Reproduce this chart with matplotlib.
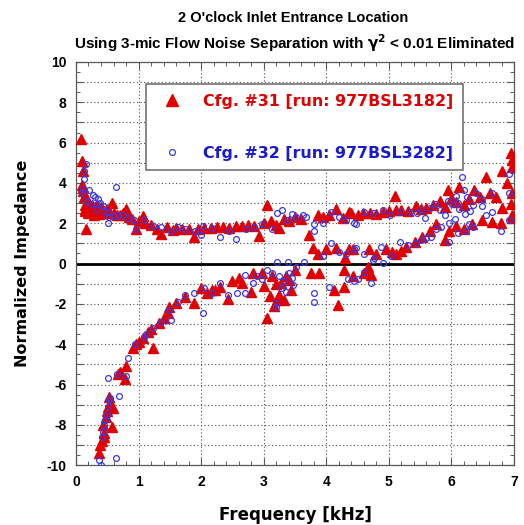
import matplotlib
matplotlib.use("Agg")
import matplotlib.pyplot as plt
from matplotlib.ticker import MultipleLocator, FuncFormatter
from matplotlib.lines import Line2D

# ---------------- data ----------------
# Cfg. #31 (red triangles) - upper branch (resistance)
red_res_f = [0.08, 0.10, 0.11, 0.10, 0.12, 0.13, 0.14, 0.15, 0.17, 0.18, 0.16, 0.20, 0.22, 0.25,
             0.27, 0.30, 0.32, 0.35, 0.38, 0.40, 0.42, 0.45, 0.50, 0.55, 0.57, 0.60, 0.65, 0.70,
             0.75, 0.80, 0.85, 0.90, 0.96, 1.00, 1.07, 1.10, 1.20, 1.30, 1.36, 1.45, 1.55, 1.60,
             1.70, 1.80, 1.88, 1.95, 2.05, 2.15, 2.25, 2.35, 2.45, 2.55, 2.65, 2.75, 2.85, 2.93,
             3.00, 3.05, 3.12, 3.20, 3.25, 3.32, 3.40, 3.50, 3.60, 3.73, 3.86, 3.95, 4.05, 4.16,
             4.26, 4.37, 4.40, 4.50, 4.58, 4.70, 4.80, 4.90, 5.00, 5.09, 5.12, 5.20, 5.30, 5.44,
             5.52, 5.60, 5.70, 5.81, 5.90, 5.94, 6.00, 6.07, 6.12, 6.20, 6.28, 6.36, 6.45, 6.55,
             6.62, 6.71, 6.81, 6.81, 6.89, 6.95, 6.97, 6.97, 6.97, 6.95, 6.97, 0.12, 0.14, 0.19,
             0.23, 0.28, 0.33, 0.37]
red_res_z = [6.2, 5.1, 4.6, 3.9, 3.6, 3.3, 2.9, 2.6, 2.8, 3.0, 1.7, 2.5, 2.7, 2.9,
             2.6, 2.8, 2.5, 2.7, 2.6, 2.8, 2.5, 2.6, 2.7, 2.5, 3.0, 2.5, 2.4, 2.4,
             2.5, 2.7, 2.3, 2.2, 1.7, 2.1, 2.35, 2.0, 1.9, 1.7, 1.45, 1.8, 1.65, 1.75,
             1.7, 1.7, 1.3, 1.7, 1.75, 1.75, 1.8, 1.8, 1.75, 1.85, 1.85, 1.9, 1.85, 1.35,
             2.0, 2.9, 2.1, 1.93, 1.78, 2.2, 2.1, 2.3, 2.2, 1.4, 2.43, 2.3, 2.4, 2.73,
             2.28, 2.58, 2.53, 2.4, 2.53, 2.5, 2.45, 2.55, 2.6, 3.33, 2.68, 2.68, 2.6, 2.83,
             2.7, 2.78, 2.9, 3.08, 2.8, 3.67, 3.2, 3.03, 3.82, 2.9, 3.2, 3.67, 3.3, 4.27,
             3.5, 3.28, 4.57, 2.78, 4.02, 5.5, 5.16, 4.81, 3.52, 2.93, 2.43, 3.8, 2.7, 3.1,
             2.8, 2.4, 2.9, 2.45]

# Cfg. #31 (red triangles) - lower branch (reactance)
red_rea_f = [0.37, 0.38, 0.41, 0.45, 0.43, 0.48, 0.51, 0.53, 0.57, 0.59, 0.67, 0.70, 0.78, 0.80,
             0.91, 0.96, 1.07, 1.23, 1.20, 1.32, 1.40, 1.47, 1.48, 1.60, 1.75, 1.88, 2.00, 2.09,
             2.18, 2.30, 2.43, 2.50, 2.66, 2.80, 2.83, 2.97, 3.05, 3.10, 3.17, 3.20, 3.25, 3.28,
             3.33, 3.36, 3.44, 3.50, 3.76, 3.78, 3.86, 3.89, 4.00, 4.13, 4.16, 4.18, 4.29, 4.30,
             4.29, 4.37, 4.42, 4.42, 4.61, 4.66, 4.69, 4.72, 4.69, 4.80, 4.96, 5.12, 5.28, 5.41,
             5.53, 5.65, 5.76, 5.89, 5.96, 6.07, 6.20, 6.33, 6.49, 6.65, 6.79, 6.97, 5.05, 5.20,
             0.44, 0.50, 0.55, 1.00, 1.15, 2.22, 2.60, 3.00, 3.14, 3.22, 3.40]
red_rea_z = [-9.38, -9.0, -8.8, -8.4, -8.0, -7.6, -7.1, -6.6, -8.1, -7.15, -5.5, -5.4, -5.75, -5.1,
             -4.2, -4.0, -3.7, -4.2, -3.27, -2.93, -2.7, -2.43, -2.18, -1.94, -1.64, -1.94, -1.19, -1.44,
             -1.3, -1.14, -1.74, -0.89, -0.94, -1.39, -0.45, -0.45, -2.68, -1.6, -2.13, -1.0, -1.54, -0.94,
             -1.8, -0.64, -1.29, -0.3, -0.45, 0.79, 0.45, -0.45, 0.7, -1.29, 0.79, -2.08, -1.14, 0.3,
             -0.3, 0.7, -0.64, 0.7, -0.45, -0.15, -0.45, -0.55, 0.7, 0.45, 0.7, 0.45, 0.84, 1.09,
             1.34, 1.59, 1.94, 1.19, 1.59, 1.84, 1.69, 1.94, 2.18, 2.08, 2.03, 2.28, 0.55, 0.6,
             -8.6, -7.3, -6.9, -3.9, -3.4, -1.3, -0.7, -1.1, -0.6, -1.8, -0.8]

# Cfg. #32 (blue open circles) - upper branch (resistance)
blue_res_f = [0.16, 0.13, 0.13, 0.11, 0.21, 0.27, 0.30, 0.35, 0.38, 0.43, 0.51, 0.53, 0.51, 0.64,
              0.67, 0.75, 0.83, 0.93, 0.96, 1.08, 1.23, 1.36, 1.52, 1.63, 1.75, 1.90, 2.00, 2.03,
              2.18, 2.30, 2.44, 2.56, 2.71, 2.84, 2.98, 3.13, 3.22, 3.30, 3.37, 3.45, 3.52, 3.62,
              3.68, 3.81, 3.81, 3.94, 4.08, 4.21, 4.32, 4.45, 4.48, 4.61, 4.74, 4.90, 5.01, 5.17,
              5.33, 5.45, 5.52, 5.57, 5.65, 5.73, 5.81, 5.90, 6.01, 6.07, 6.17, 6.20, 6.25, 6.30,
              6.40, 6.48, 6.49, 6.55, 6.65, 6.65, 6.79, 6.92, 6.92, 6.92, 0.10, 0.18, 0.24, 0.32,
              0.45, 0.60, 6.05, 6.12, 6.35, 6.10, 5.95, 6.22]
blue_res_z = [4.96, 4.57, 4.17, 3.72, 3.67, 3.42, 3.3, 3.18, 3.0, 2.83, 2.58, 2.33, 2.03, 3.82,
              2.43, 2.4, 2.28, 2.18, 1.69, 2.18, 1.84, 1.79, 1.59, 1.79, 1.7, 1.59, 1.44, 1.84,
              1.74, 1.34, 1.59, 1.24, 1.69, 1.79, 1.94, 1.69, 2.53, 2.68, 2.18, 2.45, 2.33, 2.43,
              2.33, 1.94, 1.59, 2.03, 2.58, 2.33, 2.18, 2.03, 1.94, 2.58, 2.53, 2.68, 2.43, 2.58,
              2.58, 2.5, 2.68, 2.28, 2.78, 2.93, 2.68, 2.4, 2.93, 3.33, 4.27, 3.67, 3.28, 2.6,
              3.52, 3.18, 2.83, 2.4, 3.52, 2.58, 1.59, 3.52, 4.42, 2.18, 3.5, 3.1, 2.95, 2.7,
              2.6, 2.35, 2.2, 2.7, 2.9, 3.0, 3.1, 2.45]

# Cfg. #32 (blue open circles) - lower branch (reactance)
blue_rea_f = [0.37, 0.40, 0.64, 0.41, 0.43, 0.45, 0.46, 0.49, 0.51, 0.53, 0.54, 0.69, 0.51, 0.80,
              0.83, 0.94, 1.08, 1.23, 1.36, 1.52, 1.48, 1.63, 1.75, 1.88, 2.03, 2.04, 2.18, 2.30,
              2.43, 2.58, 2.70, 2.70, 2.83, 2.97, 3.13, 3.20, 3.20, 3.22, 3.28, 3.33, 3.36, 3.41,
              3.46, 3.52, 3.65, 3.81, 3.80, 3.94, 4.05, 4.07, 4.21, 4.32, 4.34, 4.45, 4.45, 4.50,
              4.48, 4.61, 4.61, 4.72, 4.74, 4.77, 4.90, 4.88, 5.04, 5.17, 5.30, 5.44, 5.52, 5.60,
              5.68, 5.76, 5.84, 5.96, 5.96, 6.24, 6.28, 3.38, 3.25, 3.45, 3.05, 2.90, 0.65, 1.12,
              6.10, 6.35]
blue_rea_z = [-9.73, -9.98, -9.63, -8.6, -8.34, -8.0, -7.74, -7.5, -7.1, -6.75, -6.65, -6.55, -5.66, -5.6,
              -4.67, -3.97, -3.62, -3.18, -2.88, -2.78, -2.28, -1.89, -1.54, -1.44, -2.43, -1.19, -1.44, -0.94,
              -1.54, -1.44, -0.55, -1.44, -0.94, -0.79, -0.45, -1.94, -2.18, 0.1, -1.19, -0.89, -1.39, -0.45,
              -1.04, -0.15, 0.1, -1.44, -1.89, 0.35, -1.14, 1.04, 0.55, 0.45, -0.79, 0.7, -0.89, -0.79,
              0.79, 0.45, -0.4, -0.94, 0.2, 0.3, 0.05, 0.84, 0.35, 1.09, 0.94, 1.04, 1.19, 1.29,
              1.34, 1.69, 1.79, 1.09, 2.03, 1.59, 1.94, 0.1, -0.6, -0.7, -0.3, -0.6, -5.5, -3.5,
              1.5, 1.8]

# ---------------- figure ----------------
fig = plt.figure(figsize=(5.24, 5.25), dpi=100)
ax = fig.add_axes([0.145, 0.114, 0.836, 0.768])

red_f = red_res_f + red_rea_f
red_z = red_res_z + red_rea_z
blue_f = blue_res_f + blue_rea_f
blue_z = blue_res_z + blue_rea_z

ax.plot(red_f, red_z, linestyle='none', marker='^', markersize=7,
        color='#e00000', markeredgecolor='#e00000', zorder=3)
ax.plot(blue_f, blue_z, linestyle='none', marker='o', markersize=4.2,
        markerfacecolor='none', markeredgecolor='#3a3ae8', markeredgewidth=0.9, zorder=4)

ax.axhline(0, color='black', linewidth=2.0, zorder=2)

ax.set_xlim(0, 7)
ax.set_ylim(-10, 10)
ax.xaxis.set_major_locator(MultipleLocator(1))
ax.xaxis.set_minor_locator(MultipleLocator(0.2))
ax.yaxis.set_major_locator(MultipleLocator(1))
ax.yaxis.set_minor_locator(MultipleLocator(0.5))
ax.yaxis.set_major_formatter(FuncFormatter(lambda v, p: f"{int(round(v))}" if int(round(v)) % 2 == 0 else ""))
ax.tick_params(which='both', direction='in', top=True, right=True, color='0.35')
ax.tick_params(which='major', length=5, width=0.8, labelsize=10, pad=7)
ax.tick_params(which='minor', length=3, width=0.7)
for lbl in ax.get_xticklabels() + ax.get_yticklabels():
    lbl.set_fontweight('bold')
    lbl.set_family('Liberation Sans')

ax.grid(True, which='major', linestyle=(0, (1, 2.2)), color='0.3', linewidth=0.8)
for s in ax.spines.values():
    s.set_color('0.35')
    s.set_linewidth(0.9)

ax.set_xlabel('Frequency [kHz]', fontsize=12, fontweight='bold', family='DejaVu Sans', labelpad=12)
ax.set_ylabel('Normalized Impedance', fontsize=11.5, fontweight='bold', family='DejaVu Sans', labelpad=12)

fig.text(0.56, 0.966, "2 O'clock Inlet Entrance Location", ha='center', va='center',
         fontsize=10.5, fontweight='bold', family='Liberation Sans')
fig.text(0.562, 0.917, r"Using 3-mic Flow Noise Separation with $\mathbf{\gamma^2}$ < 0.01 Eliminated",
         ha='center', va='center', fontsize=11, fontweight='bold', family='Liberation Sans')

handles = [Line2D([], [], linestyle='none', marker='^', markersize=8.5, color='#e00000'),
           Line2D([], [], linestyle='none', marker='o', markersize=4.2, markerfacecolor='none',
                  markeredgecolor='#3a3ae8', markeredgewidth=0.9)]
labels = ['Cfg. #31 [run: 977BSL3182]', 'Cfg. #32 [run: 977BSL3282]']
leg = ax.legend(handles, labels, loc='upper left', bbox_to_anchor=(0.16, 0.945),
                borderaxespad=0.0,
                frameon=True, fancybox=False, edgecolor='0.45', framealpha=1,
                labelspacing=2.35, handletextpad=0.9, borderpad=0.6, handlelength=2.1,
                prop={'family': 'DejaVu Sans', 'weight': 'bold', 'size': 11.4})
leg.get_frame().set_linewidth(1.2)
leg.texts[0].set_color('#e00000')
leg.texts[1].set_color('#1a1ad0')

fig.savefig('out.png', dpi=100)
